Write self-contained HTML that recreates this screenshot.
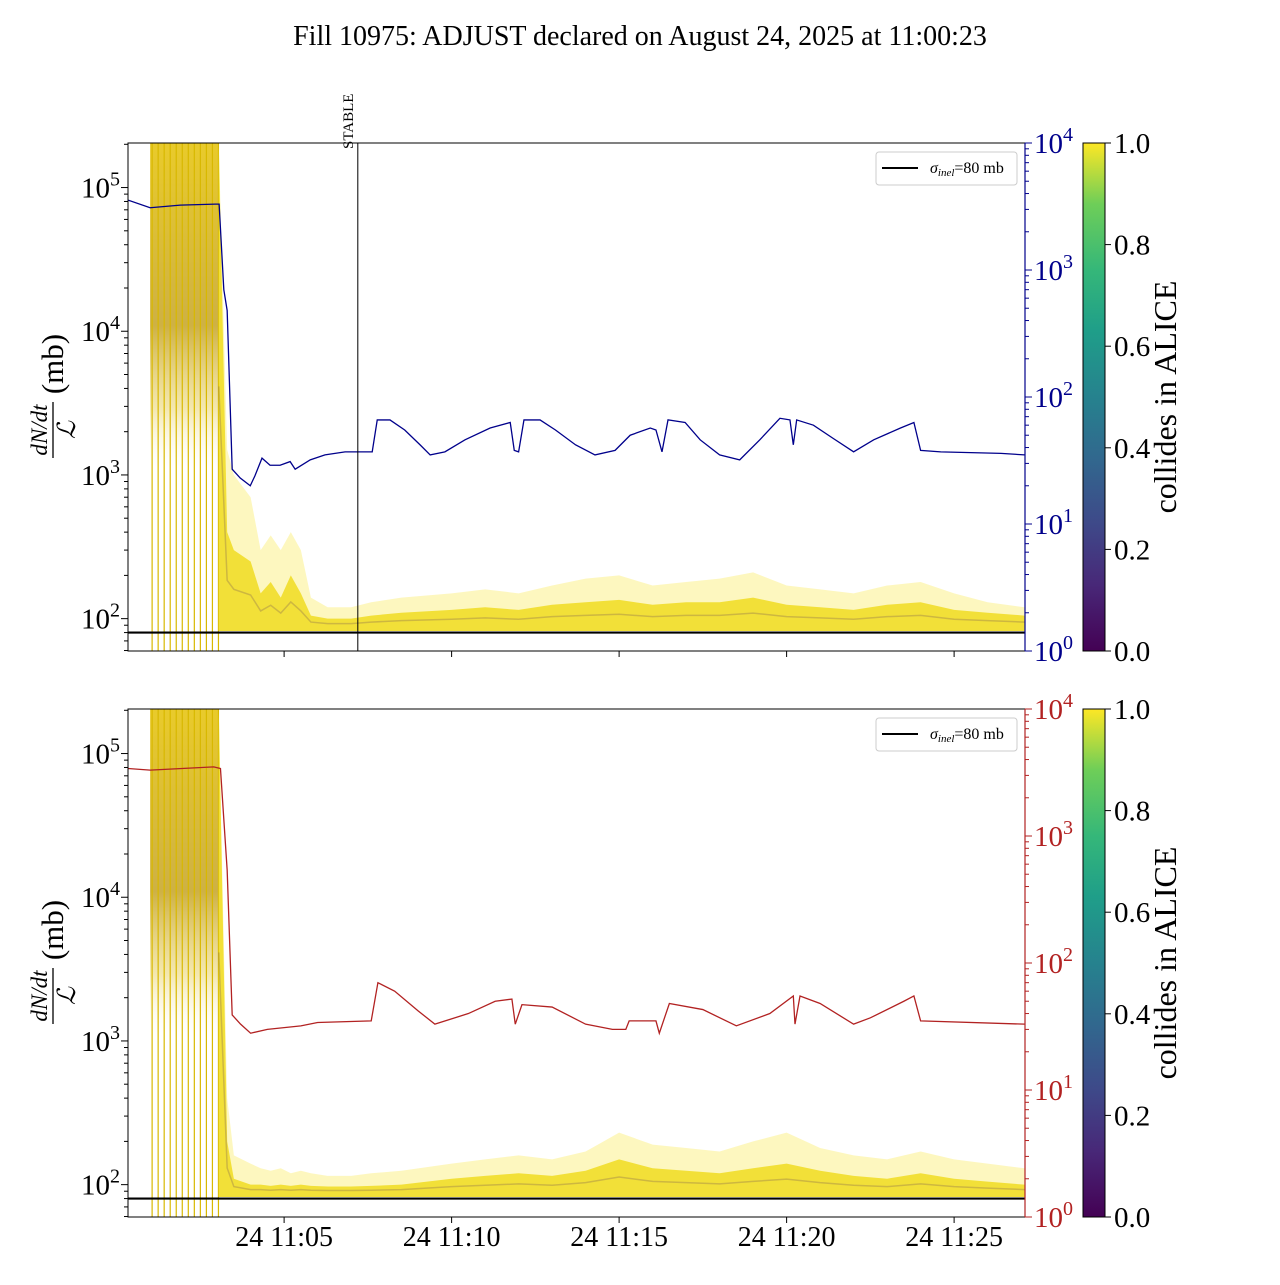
<!DOCTYPE html>
<html><head><meta charset="utf-8"><style>
body{margin:0;background:#fff;}
svg text{font-family:"Liberation Serif",serif;}
</style></head><body>
<svg id="c" width="1280" height="1280" xmlns="http://www.w3.org/2000/svg">
<defs>
<linearGradient id="vir" x1="0" y1="1" x2="0" y2="0">
<stop offset="0" stop-color="#440154"/><stop offset="0.13" stop-color="#482878"/><stop offset="0.25" stop-color="#3e4989"/><stop offset="0.38" stop-color="#31688e"/><stop offset="0.5" stop-color="#26828e"/><stop offset="0.63" stop-color="#1f9e89"/><stop offset="0.75" stop-color="#35b779"/><stop offset="0.88" stop-color="#6ece58"/><stop offset="1" stop-color="#fde725"/>
</linearGradient>
<linearGradient id="pre" x1="0" y1="0" x2="0" y2="1">
<stop offset="0" stop-color="#e8c820" stop-opacity="0.95"/><stop offset="0.55" stop-color="#c8a830" stop-opacity="0.9"/><stop offset="0.8" stop-color="#e8d060" stop-opacity="0.5"/><stop offset="1" stop-color="#fff" stop-opacity="0"/>
</linearGradient>
<clipPath id="cp1"><rect x="128" y="143" width="897" height="508"/></clipPath>
<clipPath id="cp2"><rect x="128" y="709" width="897" height="508"/></clipPath>
</defs>
<text x="640" y="45" font-size="28" text-anchor="middle">Fill 10975: ADJUST declared on August 24, 2025 at 11:00:23</text>
</svg>
<script>
// data (minutes after 11:00)
const blueT=[0.34,1.0,1.9,2.94,3.06,3.2,3.3,3.45,3.69,3.99,4.13,4.34,4.58,4.88,5.18,5.33,5.78,6.22,6.82,7.63,7.78,8.16,8.6,9.06,9.36,9.8,10.4,11.15,11.75,11.87,12.0,12.16,12.64,13.1,13.7,14.28,14.88,15.33,15.93,16.1,16.28,16.46,16.97,17.42,18.0,18.6,19.2,19.8,20.1,20.2,20.3,20.8,21.4,22.0,22.6,23.4,23.8,24.0,24.6,26.4,27.1];
const blueV=[3550,3090,3240,3300,3300,700,480,27,23,20,24,33,29,29,31,27,32,35,37,37,66,66,55,42,35,37,46,57,63,38,37,66,66,55,42,35,38,50,57,55,37,66,63,46,35,32,46,68,66,42,66,60,47,37,46,57,63,38,37,36,35];
const redT=[0.34,1.0,2.9,3.1,3.3,3.45,3.7,4.0,4.5,5.0,5.5,6.0,7.6,7.8,8.3,9.0,9.5,10.5,11.3,11.8,11.9,12.1,13.0,14.0,14.8,15.2,15.3,16.1,16.2,16.5,17.5,18.5,19.5,20.2,20.25,20.4,21.0,22.0,22.5,23.5,23.8,24.0,27.1];
const redV=[3400,3300,3500,3400,540,39,33,28,30,31,32,34,35,70,60,42,33,40,50,52,33,47,45,33,30,30,35,35,28,48,43,32,40,55,33,55,48,33,37,50,55,35,33];
const bandT=[3.05,3.3,3.5,4.0,4.3,4.6,4.9,5.2,5.5,5.8,6.3,7.0,7.6,8.5,10,11,12,13,14,15,16,17,18,19,20,21,22,23,24,25,26,27.1];
const topHi=[2e5,1500,1000,700,300,380,300,400,300,140,120,120,130,140,150,160,150,170,190,200,170,180,190,210,170,160,150,170,180,150,130,120];
const topMid=[2e5,400,300,250,150,180,140,200,150,105,100,100,105,110,115,120,115,125,130,135,125,130,130,140,125,120,115,125,130,115,110,105];
const botHi=[2e5,400,160,140,130,125,130,120,125,120,115,115,120,125,140,150,160,150,170,230,190,180,170,200,230,180,160,150,170,150,140,130];
const botMid=[2e5,200,110,100,100,98,100,98,100,98,97,97,98,100,110,115,120,115,125,150,130,125,120,130,140,125,115,110,120,110,105,100];
const spikeT=[1.06,1.24,1.42,1.6,1.78,1.96,2.14,2.32,2.5,2.68,2.86,3.04];
const xTicks=[5,10,15,20,25];
const xLabels=["24 11:05","24 11:10","24 11:15","24 11:20","24 11:25"];
const cbTicks=[0,0.2,0.4,0.6,0.8,1.0];
const sigma=80;

const svg=document.getElementById('c');
const NS='http://www.w3.org/2000/svg';
function mk(tag,attrs,parent){const e=document.createElementNS(NS,tag);for(const k in attrs)e.setAttribute(k,attrs[k]);(parent||svg).appendChild(e);return e;}
const X0=128,X1=1025;
const xs=t=>X0+(t-0.34)*33.5;

function panel(top,rightColor,lineT,lineV,hi,mid,cp,idx,showX){
  const H=508,bot=top+H;
  const yl=v=>top+(5.31-Math.log10(v))*143.7;
  const yr=v=>bot-Math.log10(v)*127;
  const g=mk('g',{'clip-path':'url(#'+cp+')'});
  
  
  const pre=mk('rect',{x:xs(1.0),y:top,width:xs(3.05)-xs(1.0),height:yl(1000)-top,fill:'url(#pre)'},g);
  
  
  spikeT.forEach(t=>{const l=mk('line',{x1:xs(t),x2:xs(t),y1:top,y2:bot,stroke:'#d8b800','stroke-width':1.2},g);
    
    });
  const poly=(arr,fill,op,name)=>{let d='M'+xs(bandT[0])+','+yl(82);
    bandT.forEach((t,i)=>d+=' L'+xs(t)+','+yl(arr[i]));
    d+=' L'+xs(bandT[bandT.length-1])+','+yl(82)+'Z';
    const p=mk('path',{d:d,fill:fill,'fill-opacity':op},g);
    
    };
  poly(hi,'#fbee70',0.45,'band-envelope');
  poly(mid,'#f0dc20',0.85,'band-core');
  let dd='';bandT.forEach((t,i)=>dd+=(i?' L':'M')+xs(t)+','+yl(Math.sqrt(mid[i]*82)*1.02));
  const dk=mk('path',{d:dd,fill:'none',stroke:'#8a6a50','stroke-width':1.5,'stroke-opacity':0.35},g);
  
  
  const sl=mk('line',{x1:X0,x2:X1,y1:yl(sigma),y2:yl(sigma),stroke:'#000','stroke-width':2.2},g);
  
  
  let ld='';lineT.forEach((t,i)=>ld+=(i?' L':'M')+xs(t)+','+yr(lineV[i]));
  const ln=mk('path',{d:ld,fill:'none',stroke:rightColor,'stroke-width':1.3},g);
  
  
  mk('rect',{x:X0,y:top,width:X1-X0,height:H,fill:'none',stroke:'#000','stroke-width':1});
  mk('line',{x1:X1,x2:X1,y1:top,y2:bot,stroke:rightColor,'stroke-width':1.2});
  for(let e=1;e<=5;e++){for(let m=1;m<10;m++){const v=m*Math.pow(10,e);const y=yl(v);if(y<top||y>bot)continue;
    mk('line',{x1:X0-(m==1?7:4),x2:X0,y1:y,y2:y,stroke:'#000'});
    if(m==1){const t=mk('text',{x:X0-8,y:y+10,'font-size':29,'text-anchor':'end'});
      
      
      t.innerHTML='10<tspan dy="-12" font-size="20">'+e+'</tspan>';}}}
  for(let e=0;e<=4;e++){for(let m=1;m<10;m++){if(e==4&&m>1)break;const y=yr(m*Math.pow(10,e));
    mk('line',{x1:X1,x2:X1+(m==1?7:4),y1:y,y2:y,stroke:rightColor});
    if(m==1){const t=mk('text',{x:X1+9,y:y+10,'font-size':29,fill:rightColor});
      
      
      t.innerHTML='10<tspan dy="-12" font-size="20">'+e+'</tspan>';}}}
  xTicks.forEach((t,i)=>{mk('line',{x1:xs(t),x2:xs(t),y1:bot,y2:bot+6,stroke:'#000'});
    if(showX){const tx=mk('text',{x:xs(t),y:bot+29,'font-size':28,'text-anchor':'middle'});
      
      
      tx.textContent=xLabels[i];}});
  const yg=mk('g',{transform:'translate(53,'+(top+H/2+11)+') rotate(-90)'});
  
  
  mk('text',{x:-22,y:-6,'font-size':23,'font-style':'italic','text-anchor':'middle'},yg).textContent='dN/dt';
  mk('line',{x1:-50,x2:6,y1:0,y2:0,stroke:'#000','stroke-width':1.3},yg);
  mk('text',{x:-22,y:22,'font-size':25,'font-style':'italic','text-anchor':'middle'},yg).textContent='ℒ';
  mk('text',{x:44,y:10,'font-size':31,'text-anchor':'middle'},yg).textContent='(mb)';
  const lg=mk('g',{});
  
  
  mk('rect',{x:876,y:top+9,width:141,height:33,rx:3,fill:'#fff',stroke:'#ccc'},lg);
  mk('line',{x1:882,x2:918,y1:top+25,y2:top+25,stroke:'#000','stroke-width':2},lg);
  const lt=mk('text',{x:930,y:top+30,'font-size':16},lg);
  lt.innerHTML='<tspan font-style="italic">σ</tspan><tspan font-size="11" dy="3" font-style="italic">inel</tspan><tspan dy="-3">=80 mb</tspan>';
  const cb=mk('rect',{x:1083,y:top,width:22,height:H,fill:'url(#vir)',stroke:'#000'});
  
  
  cbTicks.forEach(v=>{const y=bot-v*H;mk('line',{x1:1105,x2:1111,y1:y,y2:y,stroke:'#000'});
    const t=mk('text',{x:1114,y:y+10,'font-size':29});
    
    
    t.textContent=v.toFixed(1);});
  const cl=mk('text',{transform:'translate(1176,'+(top+H/2)+') rotate(-90)','font-size':32,'text-anchor':'middle'});
  
  
  cl.textContent='collides in ALICE';
}
panel(143,'#00008b',blueT,blueV,topHi,topMid,'cp1',1,false);
panel(709,'#b22222',redT,redV,botHi,botMid,'cp2',2,true);
const st=7.2;
const sl=mk('line',{x1:xs(st),x2:xs(st),y1:143,y2:651,stroke:'#000','stroke-width':1});


const stt=mk('text',{transform:'translate('+(xs(st)-5)+',149) rotate(-90)','font-size':15});


stt.textContent='STABLE';
</script>
</body></html>
